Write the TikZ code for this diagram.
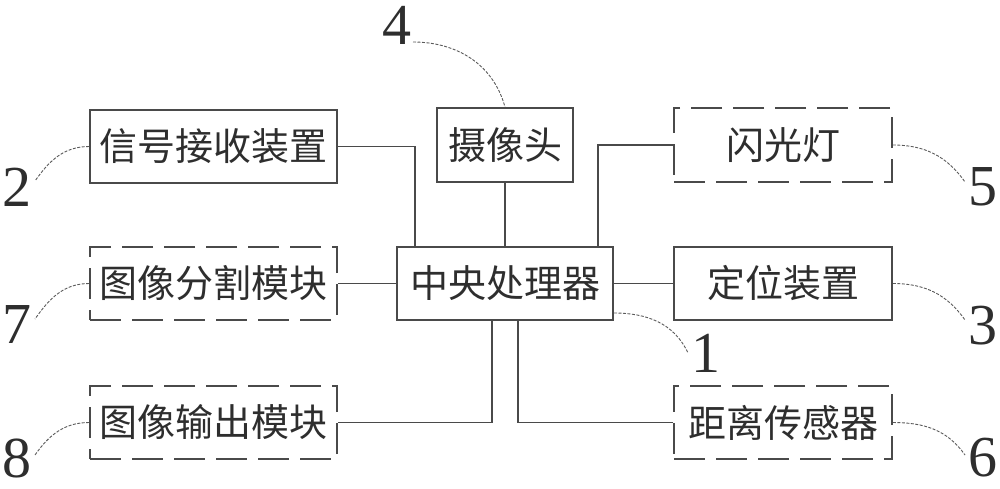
\documentclass[tikz,border=0pt]{standalone}
\usepackage{fontspec}
\setmainfont{Liberation Serif}
\newfontfamily\cjk{Noto Sans CJK SC}
\definecolor{linegray}{HTML}{4A4A4A}
\definecolor{txtgray}{HTML}{2E2E2E}
\definecolor{leadgray}{HTML}{5A5A5A}
\tikzset{
  blk/.style={draw=linegray, line width=1.6pt, inner sep=0pt, text=txtgray,
    font=\cjk\fontsize{38}{38}\selectfont},
  dbox/.style={blk, dash pattern=on 31pt off 11pt},
  conn/.style={draw=linegray, line width=1.6pt},
  leader/.style={draw=leadgray, line width=0.9pt, dash pattern=on 3pt off 1.5pt},
  num/.style={inner sep=0pt, text=txtgray, font=\fontsize{58}{58}\selectfont}
}
\begin{document}
\begin{tikzpicture}[x=1pt,y=-1pt]
\useasboundingbox (0,0) rectangle (1000,488);
% boxes
\node[blk, minimum width=247pt, minimum height=73pt] (sig) at (213.5,146.5) {信号接收装置};
\node[blk, minimum width=136pt, minimum height=74pt] (cam) at (505,145) {摄像头};
\node[dbox, minimum width=218pt, minimum height=74pt] (flash) at (783,145) {闪光灯};
\node[dbox, minimum width=247pt, minimum height=73pt] (seg) at (213.5,283.5) {图像分割模块};
\node[blk, minimum width=216pt, minimum height=73pt] (cpu) at (505,283.5) {中央处理器};
\node[blk, minimum width=218pt, minimum height=73pt] (pos) at (783,283.5) {定位装置};
\node[dbox, minimum width=247pt, minimum height=73pt] (out) at (213.5,422.5) {图像输出模块};
\node[dbox, minimum width=218pt, minimum height=73pt] (dist) at (783,422.5) {距离传感器};
% connectors
\draw[conn] (sig.east) -| ([xshift=-90pt]cpu.north);
\draw[conn] (cam.south) -- (cpu.north);
\draw[conn] (flash.west) -| ([xshift=93pt]cpu.north);
\draw[conn] (seg.east) -- (cpu.west);
\draw[conn] (cpu.east) -- (pos.west);
\draw[conn] ([xshift=-13pt]cpu.south) |- (out.east);
\draw[conn] ([xshift=13pt]cpu.south) |- (dist.west);
% labels
\node[num] (n2) at (17,187) {2};
\node[num] (n4) at (397,25) {4};
\node[num] (n5) at (983,187) {5};
\node[num] (n7) at (17,325) {7};
\node[num] (n3) at (983,326) {3};
\node[num] (n1) at (706,353) {1};
\node[num] (n8) at (17,458) {8};
\node[num] (n6) at (983,458) {6};
\coordinate (e2) at (35,181);
\coordinate (s4) at (413,42);
\coordinate (e5) at (965,182);
\coordinate (e7) at (35,319);
\coordinate (e3) at (965,320);
\coordinate (s1) at (614,313);
\coordinate (e1) at (688,353);
\coordinate (e8) at (35,455);
\coordinate (e6) at (965,455);
% leaders
\draw[leader] (sig.west) to[out=180,in=55] (e2);
\draw[leader] (s4) to[out=0,in=105] (cam.north);
\draw[leader] (flash.east) to[out=0,in=125] (e5);
\draw[leader] (seg.west) to[out=180,in=55] (e7);
\draw[leader] (pos.east) to[out=0,in=125] (e3);
\draw[leader] (s1) to[out=0,in=115] (e1);
\draw[leader] (out.west) to[out=180,in=55] (e8);
\draw[leader] (dist.east) to[out=0,in=125] (e6);
\end{tikzpicture}
\end{document}
